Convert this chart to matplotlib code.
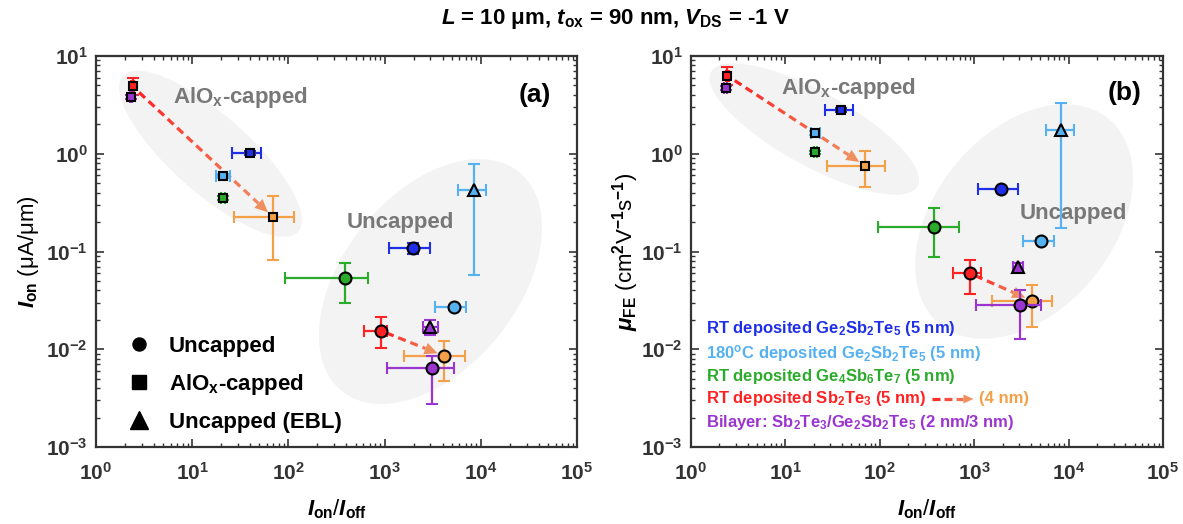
import numpy as np
import matplotlib
matplotlib.use('Agg')
import matplotlib.pyplot as plt
from matplotlib.lines import Line2D
from matplotlib.collections import LineCollection
from matplotlib.patches import Polygon
from matplotlib.colors import to_rgb
from matplotlib.transforms import IdentityTransform
from matplotlib.ticker import LogLocator, FuncFormatter, NullFormatter

plt.rcParams['font.family'] = ['Liberation Sans', 'DejaVu Sans']
plt.rcParams['font.weight'] = 'bold'
plt.rcParams['mathtext.fontset'] = 'custom'
plt.rcParams['mathtext.rm'] = 'Liberation Sans:bold'
plt.rcParams['mathtext.it'] = 'Liberation Sans:bold:italic'
plt.rcParams['mathtext.bf'] = 'Liberation Sans:bold'
plt.rcParams['mathtext.sf'] = 'Liberation Sans:bold'

# ---------------- data ----------------
series_names = ['RT deposited Ge$_2$Sb$_2$Te$_5$ (5 nm)',
                '180$^{\\rm o}$C deposited Ge$_2$Sb$_2$Te$_5$ (5 nm)',
                'RT deposited Ge$_4$Sb$_6$Te$_7$ (5 nm)',
                'RT deposited Sb$_2$Te$_3$ (5 nm)',
                '(4 nm)',
                'Bilayer: Sb$_2$Te$_3$/Ge$_2$Sb$_2$Te$_5$ (2 nm/3 nm)']
series_colors = ['#1f2fe8', '#56b1f0', '#2aab2a', '#ff2222', '#f3a048', '#9b35cf']

# Panel (a): I_on vs Ion/Ioff
a_cap_x   = [39.7, 20.9, 20.9, 2.40, 69.3, 2.31]
a_cap_xlo = [26.0, 17.8, 20.0, 2.30, 27.2, 2.25]
a_cap_xhi = [52.5, 24.5, 22.0, 2.50, 113.0, 2.38]
a_cap_y   = [1.02, 0.595, 0.355, 4.9, 0.225, 3.8]
a_cap_ylo = [0.97, 0.57, 0.34, 4.0, 0.082, 3.6]
a_cap_yhi = [1.07, 0.62, 0.37, 5.95, 0.371, 4.0]

a_unc_x   = [1975, 5225, 383, 908, 4160, 3140]
a_unc_xlo = [1110, 3310, 92.3, 604, 1590, 1058]
a_unc_xhi = [2945, 7090, 675, 1057, 6800, 5280]
a_unc_y   = [0.108, 0.0269, 0.0533, 0.0155, 0.00855, 0.00638]
a_unc_ylo = [0.095, 0.0255, 0.0296, 0.0102, 0.00474, 0.00273]
a_unc_yhi = [0.122, 0.0285, 0.0771, 0.0213, 0.01217, 0.0085]

a_ebl_idx = [1, 5]
a_ebl_x   = [8520, 2995]
a_ebl_xlo = [5810, 2500]
a_ebl_xhi = [11280, 3550]
a_ebl_y   = [0.428, 0.0168]
a_ebl_ylo = [0.0577, 0.0140]
a_ebl_yhi = [0.778, 0.0200]

# Panel (b): mu_FE vs Ion/Ioff
b_cap_x   = [39.0, 20.7, 20.7, 2.42, 70.0, 2.32]
b_cap_xlo = [26.5, 18.5, 20.0, 2.35, 27.4, 2.26]
b_cap_xhi = [52.2, 23.0, 21.5, 2.50, 114.0, 2.38]
b_cap_y   = [2.78, 1.63, 1.03, 6.29, 0.753, 4.7]
b_cap_ylo = [2.65, 1.57, 1.00, 5.0, 0.456, 4.5]
b_cap_yhi = [2.92, 1.70, 1.07, 7.7, 1.06, 4.9]

b_unc_x   = [1930, 5110, 378, 893, 4065, 3090]
b_unc_xlo = [1097, 3300, 96.8, 595, 1560, 1042]
b_unc_xhi = [2900, 6950, 684, 1185, 6600, 5100]
b_unc_y   = [0.435, 0.1286, 0.18, 0.060, 0.0315, 0.0284]
b_unc_ylo = [0.42, 0.122, 0.0875, 0.0369, 0.0168, 0.01276]
b_unc_yhi = [0.45, 0.136, 0.278, 0.0822, 0.0456, 0.040]

b_ebl_idx = [1, 5]
b_ebl_x   = [8380, 2940]
b_ebl_xlo = [5770, 2600]
b_ebl_xhi = [11300, 3300]
b_ebl_y   = [1.73, 0.0686]
b_ebl_ylo = [0.173, 0.062]
b_ebl_yhi = [3.3, 0.076]

tick_exps = [0, 1, 2, 3, 4, 5]

# ---------------- helpers ----------------
def mix(c0, c1, f):
    a = np.array(to_rgb(c0)); b = np.array(to_rgb(c1))
    return tuple(a + (b - a) * f)

def grad_arrow(ax, p0, p1, trans, trim0, trim1, c0='#ff2222', c1='#ee9466',
               chead='#ef8f5e', dash=8, gap=5, lw=2.3, hl=13, hw=12, z=3):
    P0 = np.array(trans.transform(p0)); P1 = np.array(trans.transform(p1))
    d = P1 - P0; L = np.hypot(*d); u = d / L; n = np.array([-u[1], u[0]])
    S = P0 + u * trim0; E = P1 - u * trim1
    tot = np.hypot(*(E - S)); shaft = tot - hl
    inv = trans.inverted()
    segs, cols = [], []
    pos = 0.0
    while pos < shaft - 1:
        b = min(pos + dash, shaft)
        segs.append(inv.transform(np.array([S + u * pos, S + u * b])))
        cols.append(mix(c0, c1, (pos + b) / 2 / tot))
        pos += dash + gap
    lc = LineCollection(segs, colors=cols, linewidths=lw, transform=trans,
                        zorder=z, capstyle='butt')
    ax.add_collection(lc, autolim=False)
    B = S + u * shaft
    tri = inv.transform(np.array([E, B + n * hw / 2, B - n * hw / 2]))
    ax.add_patch(Polygon(tri, closed=True, facecolor=chead, edgecolor='none',
                         transform=trans, zorder=z))

def log_ellipse(ax, cx, cy, a, b, ang, color='#f3f3f3'):
    t = np.linspace(0, 2 * np.pi, 300)
    th = np.deg2rad(ang)
    lx = cx + a * np.cos(t) * np.cos(th) - b * np.sin(t) * np.sin(th)
    ly = cy + a * np.cos(t) * np.sin(th) + b * np.sin(t) * np.cos(th)
    ax.fill(10 ** lx, 10 ** ly, color=color, lw=0, zorder=0)

def draw_group(ax, idx, x, xlo, xhi, y, ylo, yhi, marker, ms):
    for k, i in enumerate(idx):
        c = series_colors[i]
        ax.errorbar([x[k]], [y[k]],
                    xerr=[[x[k] - xlo[k]], [xhi[k] - x[k]]],
                    yerr=[[y[k] - ylo[k]], [yhi[k] - y[k]]],
                    fmt=marker, ms=ms, mfc=c, mec='black', mew=1.5,
                    ecolor=c, elinewidth=1.6, capsize=4, capthick=1.6,
                    zorder=4 + 0.1 * i)

def style_axes(ax):
    ax.set_xscale('log'); ax.set_yscale('log')
    ax.set_xlim(10.0 ** tick_exps[0], 10.0 ** tick_exps[-1])
    ax.set_ylim(1e-3, 1e1)
    fmt = FuncFormatter(lambda v, p: r'$\mathbf{10^{%d}}$' % int(round(np.log10(v))))
    for axis in (ax.xaxis, ax.yaxis):
        axis.set_major_locator(LogLocator(base=10, numticks=12))
        axis.set_minor_locator(LogLocator(base=10, subs=np.arange(2, 10), numticks=12))
        axis.set_major_formatter(fmt)
        axis.set_minor_formatter(NullFormatter())
    ax.tick_params(which='both', direction='in', top=True, right=True,
                   color='#333333', labelcolor='#333333')
    ax.tick_params(which='major', length=6, width=1.2, labelsize=15)
    ax.tick_params(axis='x', which='major', pad=11)
    ax.tick_params(axis='y', which='major', pad=6)
    ax.tick_params(which='minor', length=3, width=1.0)
    for s in ax.spines.values():
        s.set_linewidth(1.6); s.set_color('#333333')

# ---------------- figure ----------------
fig = plt.figure(figsize=(11.83, 5.24), dpi=100)
axa = fig.add_axes([96 / 1183, 77 / 524, 481 / 1183, 391 / 524])
axb = fig.add_axes([691 / 1183, 77 / 524, 472 / 1183, 391 / 524])

for ax in (axa, axb):
    style_axes(ax)

# ellipses
log_ellipse(axa, 1.19, 0.0, 1.21, 0.40, -41)
log_ellipse(axa, 3.476, -1.307, 1.45, 0.90, 50)
log_ellipse(axb, 1.306, 0.253, 1.24, 0.38, -28)
log_ellipse(axb, 3.528, -0.693, 1.38, 0.93, 48)

all6 = list(range(6))
draw_group(axa, all6, a_cap_x, a_cap_xlo, a_cap_xhi, a_cap_y, a_cap_ylo, a_cap_yhi, 's', 6.3)
draw_group(axa, all6, a_unc_x, a_unc_xlo, a_unc_xhi, a_unc_y, a_unc_ylo, a_unc_yhi, 'o', 8.6)
draw_group(axa, a_ebl_idx, a_ebl_x, a_ebl_xlo, a_ebl_xhi, a_ebl_y, a_ebl_ylo, a_ebl_yhi, '^', 9.2)

draw_group(axb, all6, b_cap_x, b_cap_xlo, b_cap_xhi, b_cap_y, b_cap_ylo, b_cap_yhi, 's', 6.3)
draw_group(axb, all6, b_unc_x, b_unc_xlo, b_unc_xhi, b_unc_y, b_unc_ylo, b_unc_yhi, 'o', 8.6)
draw_group(axb, b_ebl_idx, b_ebl_x, b_ebl_xlo, b_ebl_xhi, b_ebl_y, b_ebl_ylo, b_ebl_yhi, '^', 9.2)

# arrows (5 nm -> 4 nm Sb2Te3)
grad_arrow(axa, (a_cap_x[3], a_cap_y[3]), (a_cap_x[4], a_cap_y[4]), axa.transData, 9, 7)
grad_arrow(axa, (a_unc_x[3], a_unc_y[3]), (a_unc_x[4], a_unc_y[4]), axa.transData, 6, 7)
grad_arrow(axb, (b_cap_x[3], b_cap_y[3]), (b_cap_x[4], b_cap_y[4]), axb.transData, 9, 7)
grad_arrow(axb, (b_unc_x[3], b_unc_y[3]), (b_unc_x[4], b_unc_y[4]), axb.transData, 6, 7)

# region labels
gray = '#787878'
axa.text(0.30, 0.893, r'AlO$_{\rm x}$-capped', transform=axa.transAxes, ha='center', va='center',
         fontsize=16, color=gray)
axa.text(0.632, 0.575, 'Uncapped', transform=axa.transAxes, ha='center', va='center',
         fontsize=16, color=gray)
axa.text(0.913, 0.90, '(a)', transform=axa.transAxes, ha='center', va='center', fontsize=19)
axb.text(0.333, 0.916, r'AlO$_{\rm x}$-capped', transform=axb.transAxes, ha='center', va='center',
         fontsize=16, color=gray)
axb.text(0.809, 0.598, 'Uncapped', transform=axb.transAxes, ha='center', va='center',
         fontsize=16, color=gray)
axb.text(0.919, 0.905, '(b)', transform=axb.transAxes, ha='center', va='center', fontsize=19)

# axis labels
xlab = r'$\it{I}_{\rm on}$/$\it{I}_{\rm off}$'
for ax in (axa, axb):
    ax.set_xlabel(xlab, fontsize=16)
    ax.xaxis.set_label_coords(0.5, -0.128)
axa.set_ylabel(r'$\it{I}_{\rm on}$ (μA/μm)', fontsize=16)
axa.yaxis.set_label_coords(-0.115, 0.5)
axb.set_ylabel(r'$\mathit{\mu}_{\rm FE}$ (cm$^{2}$V$^{-1}$s$^{-1}$)', fontsize=16)
axb.yaxis.set_label_coords(-0.105, 0.5)

# legend (a)
handles = [Line2D([], [], ls='none', marker='o', ms=9.4, color='black'),
           Line2D([], [], ls='none', marker='s', ms=10.5, color='black'),
           Line2D([], [], ls='none', marker='^', ms=12.5, color='black')]
labels = ['Uncapped', r'AlO$_{\rm x}$-capped', 'Uncapped (EBL)']
axa.legend(handles, labels, loc='lower left', bbox_to_anchor=(0.066, 0.036),
           frameon=False, fontsize=16, handlelength=1.0, handletextpad=0.86,
           labelspacing=0.68, borderpad=0, borderaxespad=0)

# legend (b) - coloured text rows
row_y = [329, 353, 376, 399, 423]
row_fy = [(447 - yy) / 391 for yy in row_y]
xl = (706 - 691) / 472
txts = []
for k, i in enumerate([0, 1, 2, 3, 5]):
    t = axb.text(xl, row_fy[k], series_names[i], transform=axb.transAxes, ha='left',
                 va='center', fontsize=12, color=series_colors[i])
    txts.append(t)

fig.canvas.draw()
r = fig.canvas.get_renderer()
bb = txts[3].get_window_extent(r)
yc = axb.transAxes.transform((0, row_fy[3]))[1]
x0 = bb.x1 + 6
grad_arrow(axb, (x0, yc), (x0 + 41, yc), IdentityTransform(), 0, 0,
           dash=8, gap=4, hl=10, hw=9, z=5)
axb.text(x0 + 47, yc, series_names[4], transform=IdentityTransform(),
         ha='left', va='center', fontsize=12, color=series_colors[4])

# title
fig.text(0.52, 0.963, r'$\it{L}$ = 10 μm, $\it{t}_{\rm ox}$ = 90 nm, $\it{V}_{\rm DS}$ = -1 V',
         ha='center', va='center', fontsize=16)

fig.savefig('out.png', dpi=100)
